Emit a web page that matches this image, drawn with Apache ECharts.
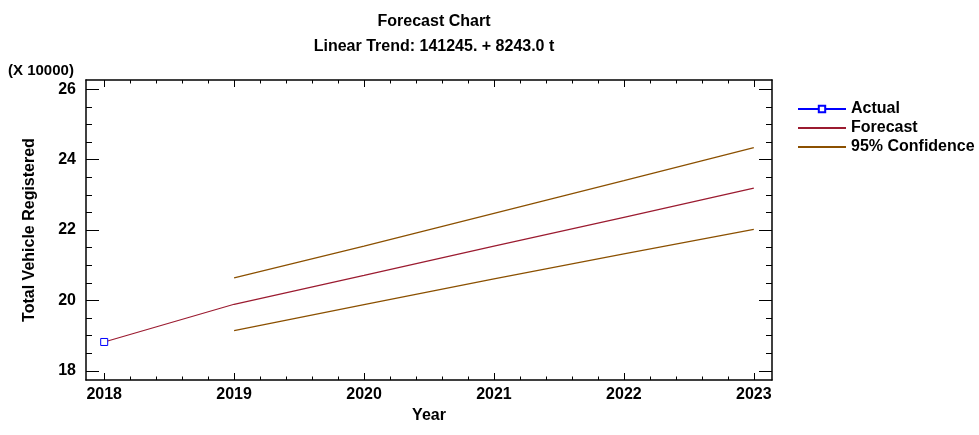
<!DOCTYPE html>
<html><head><meta charset="utf-8">
<script src="https://cdn.jsdelivr.net/npm/echarts@6/dist/echarts.min.js"></script>
<style>html,body{margin:0;padding:0;background:#fff}#c{width:979px;height:435px}</style>
</head><body><div id="c"></div>
<script>
const years = [2018, 2019, 2020, 2021, 2022, 2023];
const actualYears = [2018];
const actualValues = [18.82];
const forecastValues = [18.82, 19.89, 20.71, 21.54, 22.36, 23.19];
const confYears = [2019, 2020, 2021, 2022, 2023];
const upperValues = [20.64, 21.54, 22.47, 23.40, 24.34];
const lowerValues = [19.14, 19.88, 20.61, 21.32, 22.02];
const xMajor = [2018, 2019, 2020, 2021, 2022, 2023];
const xMinor = [2018.2,2018.4,2018.6,2018.8,2019.2,2019.4,2019.6,2019.8,2020.2,2020.4,2020.6,2020.8,2021.2,2021.4,2021.6,2021.8,2022.2,2022.4,2022.6,2022.8];
const yMajor = [18, 20, 22, 24, 26];
const yMinor = [18.5,19,19.5,20.5,21,21.5,22.5,23,23.5,24.5,25,25.5];

const FONT = 'Liberation Sans';
const FS = 16;
const pair = (xs, ys) => xs.map((x, i) => [x, ys[i]]);
const XMIN = 2017.86, XMAX = 2023.14, YMIN = 17.74, YMAX = 26.26;

function xAx(pos, ticks, len, showLine, showLabel, name) {
  return {
    type: 'value', position: pos, min: XMIN, max: XMAX,
    name: name || '', nameLocation: 'middle', nameGap: 26,
    nameTextStyle: {fontFamily: FONT, fontWeight: 'bold', fontSize: FS, color: '#000'},
    axisLine: {show: showLine, onZero: false, lineStyle: {color: '#000', width: 1.5}},
    axisTick: {show: true, inside: true, length: len, customValues: ticks, lineStyle: {color: '#000', width: 1}},
    axisLabel: {show: showLabel, customValues: ticks, margin: 7, fontFamily: FONT, fontWeight: 'bold', fontSize: FS, color: '#000', formatter: v => String(v)},
    splitLine: {show: false}
  };
}
function yAx(pos, ticks, len, showLine, showLabel, name) {
  return {
    type: 'value', position: pos, min: YMIN, max: YMAX,
    name: name || '', nameLocation: 'middle', nameGap: 48, nameRotate: 90,
    nameTextStyle: {fontFamily: FONT, fontWeight: 'bold', fontSize: FS, color: '#000'},
    axisLine: {show: showLine, onZero: false, lineStyle: {color: '#000', width: 1.5}},
    axisTick: {show: true, inside: true, length: len, customValues: ticks, lineStyle: {color: '#000', width: 1}},
    axisLabel: {show: showLabel, customValues: ticks, margin: 10, fontFamily: FONT, fontWeight: 'bold', fontSize: FS, color: '#000', formatter: v => String(v)},
    splitLine: {show: false}
  };
}

const chart = echarts.init(document.getElementById('c'), null, {renderer: 'canvas'});
chart.setOption({
  animation: false,
  backgroundColor: '#fff',
  title: {
    text: 'Forecast Chart',
    subtext: 'Linear Trend: 141245. + 8243.0 t',
    left: 429, top: 9, textAlign: 'center', itemGap: 9,
    textStyle: {fontFamily: FONT, fontWeight: 'bold', fontSize: FS, color: '#000'},
    subtextStyle: {fontFamily: FONT, fontWeight: 'bold', fontSize: FS, color: '#000'}
  },
  graphic: [{type: 'text', left: 8, top: 63, style: {text: '(X 10000)', font: 'bold 15px "Liberation Sans"', fill: '#000'}}],
  legend: {
    left: 797, top: 101, padding: 0, orient: 'vertical', itemWidth: 48, itemHeight: 8, itemGap: 3,
    textStyle: {fontFamily: FONT, fontWeight: 'bold', fontSize: FS, color: '#000'},
    data: [
      {name: 'Actual'},
      {name: 'Forecast', itemStyle: {opacity: 0}},
      {name: '95% Confidence', itemStyle: {opacity: 0}}
    ]
  },
  grid: {left: 86, right: 207, top: 80, bottom: 55},
  xAxis: [
    xAx('bottom', xMajor, 7, true, true, 'Year'),
    xAx('bottom', xMinor, 3.5, false, false),
    xAx('top', xMajor, 7, true, false),
    xAx('top', xMinor, 3.5, false, false)
  ],
  yAxis: [
    yAx('left', yMajor, 13, true, true, 'Total Vehicle Registered'),
    yAx('left', yMinor, 6, false, false),
    yAx('right', yMajor, 13, true, false),
    yAx('right', yMinor, 6, false, false)
  ],
  series: [
    {name: 'Forecast', type: 'line', data: pair(years, forecastValues), symbol: 'none', lineStyle: {color: '#9b1b30', width: 1.2}, itemStyle: {color: '#9b1b30'}, z: 3},
    {name: '95% Confidence', type: 'line', data: pair(confYears, upperValues), symbol: 'none', lineStyle: {color: '#8b5000', width: 1.2}, itemStyle: {color: '#8b5000'}},
    {name: '95% Confidence', type: 'line', data: pair(confYears, lowerValues), symbol: 'none', lineStyle: {color: '#8b5000', width: 1.2}, itemStyle: {color: '#8b5000'}},
    {name: 'Actual', type: 'line', data: pair(actualYears, actualValues), symbol: 'rect', symbolSize: 7, showAllSymbol: true, lineStyle: {color: '#0000ff', width: 1}, itemStyle: {color: '#fff', borderColor: '#0000ff', borderWidth: 1}, z: 5}
  ]
});
</script></body></html>
